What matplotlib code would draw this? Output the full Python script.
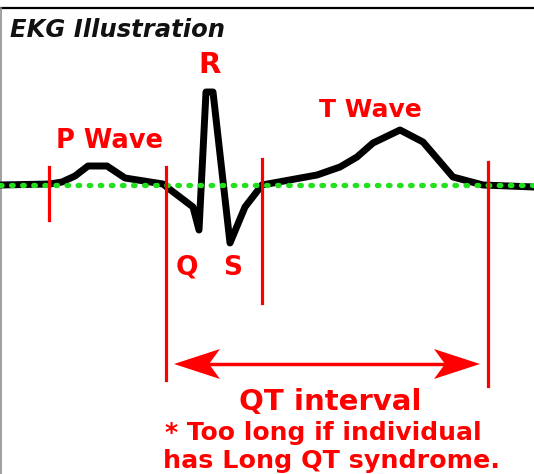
import numpy as np
import matplotlib.pyplot as plt
from matplotlib.patches import Polygon

# EKG trace (pixel units, y grows downward)
trace_x = [0, 50, 62, 75, 88, 107, 125, 163, 168, 193, 199, 206, 213, 230, 245, 262,
           317, 340, 357, 373, 400, 423, 453, 483, 534]
trace_y = [185, 184, 182, 176, 166, 166, 178, 184, 188, 207, 230, 92, 92, 243, 207, 185,
           175, 167, 157, 143, 130, 142, 177, 185, 187]
baseline_y = 185

# red markers: x, top, bottom
marker_x = [49, 166, 262, 488]
marker_top = [167, 167, 159, 162]
marker_bot = [220, 380, 303, 386]

# QT interval arrow
qt_x0, qt_x1, qt_y = 174, 480, 364

labels = ['R', 'P Wave', 'T Wave', 'Q', 'S']
label_x = [210, 109, 370, 187, 233]
label_y = [73, 148, 117, 275, 275]
label_size = [21, 18.5, 18, 19, 19]

red = '#ff0000'

fig = plt.figure(figsize=(5.34, 4.74), dpi=100)
ax = fig.add_axes([0, 0, 1, 1])
ax.set_xlim(0, 534)
ax.set_ylim(474, 0)
ax.axis('off')

# frame
ax.plot([0, 534], [8, 8], color='black', lw=1.6, zorder=1)
ax.plot([1, 1], [8, 474], color='#909090', lw=1.2, zorder=1)

ax.text(10, 37, 'EKG Illustration', fontsize=17.5, fontweight='bold', style='italic',
        family='DejaVu Sans', color='#111111', va='baseline')

# trace and baseline
ax.plot(trace_x, trace_y, color='black', lw=5, solid_joinstyle='round',
        solid_capstyle='round', zorder=2)
ax.plot([0, 534], [baseline_y, baseline_y], color='#22e01e', lw=3.8,
        linestyle=(0, (0.3, 1.8)), dash_capstyle='round', zorder=3)

for x, t, b in zip(marker_x, marker_top, marker_bot):
    ax.plot([x, x], [t, b], color=red, lw=2.3, zorder=4)

# arrow shaft and concave heads
hl, hw, notch = 46, 15, 11
ax.plot([qt_x0 + 20, qt_x1 - 20], [qt_y, qt_y], color=red, lw=2.5, zorder=4)
for tip, d in [(qt_x0, 1), (qt_x1, -1)]:
    pts = [(tip, qt_y), (tip + d * hl, qt_y - hw), (tip + d * (hl - notch), qt_y),
           (tip + d * hl, qt_y + hw)]
    ax.add_patch(Polygon(pts, closed=True, color=red, lw=0, zorder=4))

for s, x, y, fs in zip(labels, label_x, label_y, label_size):
    ax.text(x, y, s, color=red, fontsize=fs, fontweight='bold', ha='center',
            va='baseline', family='DejaVu Sans')

ax.text(330, 410, 'QT interval', color=red, fontsize=21, fontweight='bold',
        ha='center', va='baseline', family='DejaVu Sans')
ax.text(165, 440, '* Too long if individual', color=red, fontsize=18, fontweight='bold',
        ha='left', va='baseline', family='DejaVu Sans')
ax.text(163, 468, 'has Long QT syndrome.', color=red, fontsize=18.3, fontweight='bold',
        ha='left', va='baseline', family='DejaVu Sans')

fig.savefig('out.png', dpi=100)
